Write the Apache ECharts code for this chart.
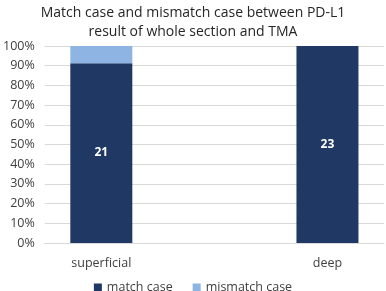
<!DOCTYPE html>
<html><head><meta charset="utf-8">
<script src="https://cdn.jsdelivr.net/npm/echarts@6/dist/echarts.min.js"></script>
<style>html,body{margin:0;padding:0;background:#fff}#c{width:386px;height:291px}</style>
</head><body><div id="c"></div>
<script>
const titleText = "Match case and mismatch case between PD-L1\nresult of whole section and TMA";
const categories = ["superficial", "", "deep"];
const matchCounts = [21, null, 23];
const mismatchCounts = [2, null, 0];
const seriesNames = ["match case", "mismatch case"];
const yTicks = [0, 10, 20, 30, 40, 50, 60, 70, 80, 90, 100];

const pct = (a, i) => (a[i] == null ? null : a[i] / (matchCounts[i] + mismatchCounts[i]) * 100);
const matchPct = categories.map((_, i) => pct(matchCounts, i));
const mismatchPct = categories.map((_, i) => pct(mismatchCounts, i));

const font = "Open Sans";
const chart = echarts.init(document.getElementById('c'), null, {renderer: 'canvas'});
chart.setOption({
  animation: false,
  title: {
    text: titleText, left: 'center', top: -1,
    textStyle: {fontFamily: font, fontSize: 14, fontWeight: 'normal', color: '#262626', lineHeight: 19}
  },
  legend: {
    data: seriesNames, top: 276, left: 'center', itemWidth: 8, itemHeight: 8, itemGap: 20,
    icon: 'rect',
    textStyle: {fontFamily: font, fontSize: 12.5, color: '#404040'}
  },
  grid: {left: 43, right: 2, top: 46, bottom: 48, containLabel: false},
  xAxis: {
    type: 'category', data: categories,
    axisLine: {lineStyle: {color: '#d9d9d9'}}, axisTick: {show: false},
    axisLabel: {fontFamily: font, fontSize: 12.5, color: '#404040', margin: 14}
  },
  yAxis: {
    type: 'value', min: 0, max: 100, interval: 10,
    axisLabel: {fontFamily: font, fontSize: 12.5, color: '#404040', margin: 10,
      formatter: v => yTicks.includes(v) ? v + '%' : ''},
    splitLine: {lineStyle: {color: '#d9d9d9'}}, axisLine: {show: false}, axisTick: {show: false}
  },
  series: [
    {name: seriesNames[0], type: 'bar', stack: 's', data: matchPct, barWidth: 62,
      itemStyle: {color: '#1f3864'},
      label: {show: true, position: 'inside', fontFamily: font, fontSize: 12, fontWeight: 'bold', color: '#fff',
        formatter: p => matchCounts[p.dataIndex]}},
    {name: seriesNames[1], type: 'bar', stack: 's', data: mismatchPct, barWidth: 62,
      itemStyle: {color: '#8eb4e3'}}
  ]
});
</script></body></html>
